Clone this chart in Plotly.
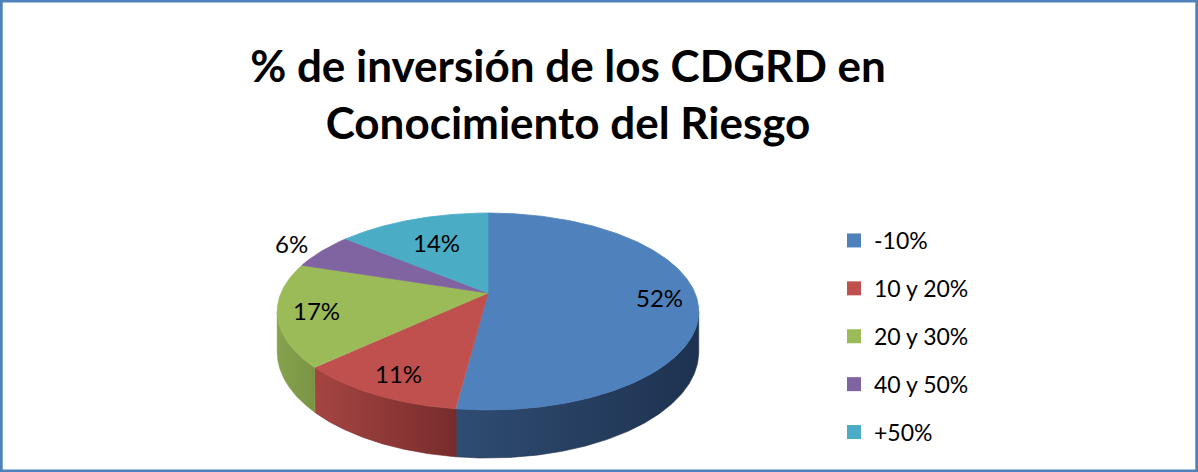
import numpy as np
import plotly.graph_objects as go

# ---------------- data ----------------
categories = ["-10%", "10 y 20%", "20 y 30%", "40 y 50%", "+50%"]
values = [52, 11, 17, 6, 14]
top_colors = ["#4F81BD", "#C0504D", "#9BBB59", "#8064A2", "#4BACC6"]
side_colors = [("#2F4C72", "#1E3250"), ("#A54542", "#772C2C"), ("#86A24D", "#7A9444"),
               ("#6A5388", "#5A4573"), ("#3E93A9", "#357F92")]
title_text = "% de inversión de los CDGRD en<br>Conocimiento del Riesgo"

# ---------------- pie geometry (perspective 3D pie) ----------------
W, H = 1198, 472
CX, CY = 488, 293          # apex of the pie on screen
S, K, P, M = 207, 95, 0.188, 39   # horizontal scale, vertical scale, perspective, depth
FONT = "Lato"


def proj(a, r=1.0, z=0.0):
    u = r * np.sin(a)
    v = r * np.cos(a)
    w = 1 + P * v
    return CX + S * u / w, CY - (K * v + M * z) / w


fracs = np.array(values, dtype=float) / sum(values)
ends = np.cumsum(fracs) * 2 * np.pi
starts = np.concatenate([[0], ends[:-1]])

fig = go.Figure()

# side walls (visible front half)
aR = np.arccos(-P)
aL = 2 * np.pi - aR
for i in range(len(values)):
    a1, a2 = max(starts[i], aR), min(ends[i], aL)
    if a2 <= a1:
        continue
    t = np.linspace(a1, a2, 200)
    xt, yt = proj(t, 1, 0)
    xb, yb = proj(t[::-1], 1, -1)
    xs = np.concatenate([xt, xb, xt[:1]])
    ys = np.concatenate([yt, yb, yt[:1]])
    fig.add_trace(go.Scatter(
        x=xs, y=ys, mode="lines", fill="toself",
        line=dict(width=0.6, color=side_colors[i][1]),
        fillgradient=dict(type="horizontal",
                          colorscale=[[0, side_colors[i][0]], [1, side_colors[i][1]]]),
        showlegend=False, hoverinfo="skip"))

# top faces
for i in range(len(values)):
    t = np.linspace(starts[i], ends[i], 300)
    xa, ya = proj(t)
    xs = np.concatenate([[CX], xa, [CX]])
    ys = np.concatenate([[CY], ya, [CY]])
    fig.add_trace(go.Scatter(
        x=xs, y=ys, mode="lines", fill="toself",
        line=dict(width=0.8, color=top_colors[i]), fillcolor=top_colors[i],
        showlegend=False, hoverinfo="text", text=categories[i]))

# data labels
for i in range(len(values)):
    mid = (starts[i] + ends[i]) / 2
    if fracs[i] < 0.08:
        r = 1.2
    elif mid > 1.5 * np.pi:
        r = 0.65
    else:
        r = 0.82
    lx, ly = proj(mid, r)
    fig.add_annotation(x=lx, y=ly, text=f"{values[i]}%", showarrow=False,
                       font=dict(family=FONT, size=24, color="#000000"))

# legend entries
for i in range(len(values)):
    fig.add_trace(go.Scatter(
        x=[None], y=[None], mode="markers", name=categories[i],
        legendgroup=f"g{i}",
        marker=dict(symbol="square", size=14, color=top_colors[i])))

fig.update_layout(
    width=W, height=H,
    margin=dict(l=0, r=0, t=0, b=0),
    paper_bgcolor="white", plot_bgcolor="white",
    xaxis=dict(range=[0, W], visible=False, fixedrange=True),
    yaxis=dict(range=[H, 0], visible=False, fixedrange=True),
    title=dict(text=title_text, x=568 / W, xanchor="center",
               y=1 - 82 / H, yanchor="top",
               font=dict(family=FONT, size=44, color="#000000", weight="bold")),
    legend=dict(x=834 / W, y=1 - 219 / H, xanchor="left", yanchor="top",
                font=dict(family=FONT, size=23, color="#000000"),
                tracegroupgap=15, bgcolor="rgba(0,0,0,0)"),
    showlegend=True,
    shapes=[dict(type="rect", xref="paper", yref="paper", x0=0.001, y0=0.002,
                 x1=0.999, y1=0.998, line=dict(color="#4F81BD", width=3))],
)

fig.write_html("out.html", config={"displayModeBar": False},
               post_script="document.body.style.margin='0px';")
